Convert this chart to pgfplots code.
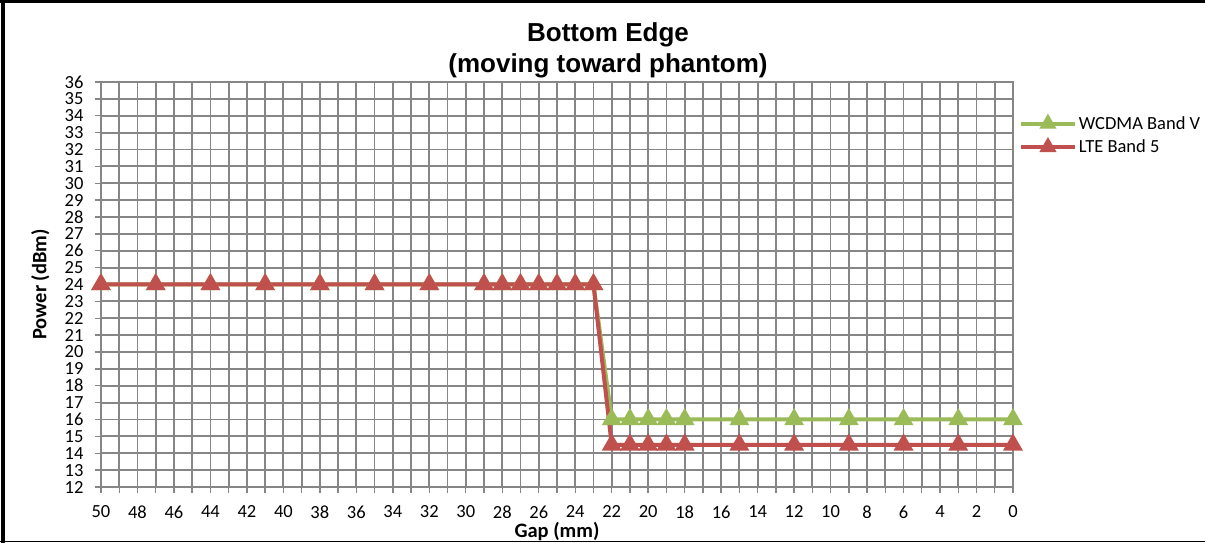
\documentclass[border=0pt]{standalone}
\usepackage{pgfplots}
\pgfplotsset{compat=1.18}
\usepackage{fontspec}
\setmainfont{Carlito}
\newfontfamily\arialfont{Liberation Sans}
\definecolor{wgreen}{HTML}{9BBB59}
\definecolor{lred}{HTML}{C0504D}
\definecolor{gridgray}{HTML}{868686}
\begin{document}
\begin{tikzpicture}[x=1pt,y=1pt]
\useasboundingbox (0,0) rectangle (1205,543);
\fill[white] (0,0) rectangle (1205,543);
\begin{axis}[
  at={(101pt,56pt)}, anchor=south west,
  scale only axis, width=912pt, height=405pt,
  xmin=0, xmax=50, ymin=12, ymax=36,
  x dir=reverse,
  xtick={0,2,...,50}, minor xtick={1,3,...,49},
  ytick={12,13,...,36},
  xtick pos=bottom, ytick pos=left,
  tick align=outside,
  major tick length=6pt, minor tick length=6pt,
  grid=both,
  major grid style={draw=gridgray, line width=1.8pt},
  minor grid style={draw=gridgray, line width=1.8pt},
  axis line style={draw=gridgray, line width=1.8pt},
  every tick/.style={draw=gridgray, line width=1.4pt},
  every minor tick/.style={draw=gridgray, line width=1.4pt},
  /pgf/number format/assume math mode=true,
  tick label style={font=\fontsize{18.5}{18.5}\selectfont},
  xticklabel style={yshift=-9pt},
  yticklabel style={xshift=-8pt},
  xlabel={\bfseries Gap (mm)},
  ylabel={\bfseries Power (dBm)},
  label style={font=\fontsize{20.5}{20.5}\selectfont},
  xlabel style={at={(axis description cs:0.5,0)}, anchor=south, yshift=-57pt},
  ylabel style={at={(axis description cs:0,0.5)}, anchor=south, yshift=48pt},
  legend style={at={(rel axis cs:1.003,0.925)}, anchor=north west, draw=none, fill=none,
    font=\fontsize{18.5}{18.5}\selectfont, row sep=5pt,
    /tikz/every even column/.append style={column sep=2pt}},
  legend cell align=left,
  legend image code/.code={
    \draw[#1, mark size=6pt, mark repeat=2, mark phase=2] plot coordinates {(0pt,0pt) (27pt,0pt) (54pt,0pt)};
  },
  every axis plot/.append style={line width=4pt, mark=triangle*, mark size=7.5pt,
    mark options={line width=0.5pt}},
  clip=false,
]
\addplot[color=wgreen, mark options={fill=wgreen, draw=wgreen}] coordinates {
 (50,24) (47,24) (44,24) (41,24) (38,24) (35,24) (32,24) (29,24) (28,24) (27,24)
 (26,24) (25,24) (24,24) (23,24) (22,16) (21,16) (20,16) (19,16) (18,16)
 (15,16) (12,16) (9,16) (6,16) (3,16) (0,16)
};
\addlegendentry{WCDMA Band V}
\addplot[color=lred, mark options={fill=lred, draw=lred}] coordinates {
 (50,24) (47,24) (44,24) (41,24) (38,24) (35,24) (32,24) (29,24) (28,24) (27,24)
 (26,24) (25,24) (24,24) (23,24) (22,14.5) (21,14.5) (20,14.5) (19,14.5) (18,14.5)
 (15,14.5) (12,14.5) (9,14.5) (6,14.5) (3,14.5) (0,14.5)
};
\addlegendentry{LTE Band 5}
\end{axis}
\node[font=\arialfont\bfseries\fontsize{26}{31}\selectfont, align=center] at (608,492.5)
  {Bottom Edge\\(moving toward phantom)};
\draw[line width=4pt] (3,0) -- (3,541) ;
\draw[line width=3pt] (0,541.5) -- (1205,541.5);
\draw[line width=1.2pt] (0,1.5) -- (1205,1.5);
\end{tikzpicture}
\end{document}
